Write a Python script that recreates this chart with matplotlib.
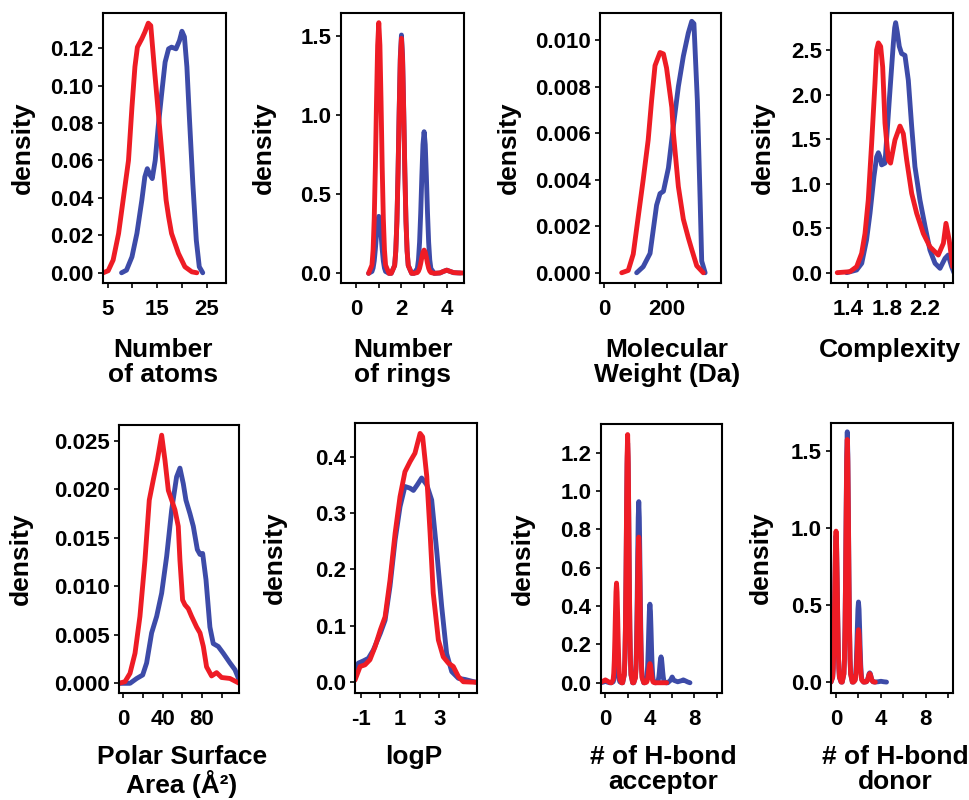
import matplotlib.pyplot as plt

# ==========================================================
# STYLE
# ==========================================================

plt.rcParams['font.family'] = ['Liberation Sans', 'DejaVu Sans']
plt.rcParams['font.weight'] = 'bold'

W, H = 970, 800
BLUE = '#3D4BA8'
RED = '#EE1C25'
LINE_W = 3.5
TICK_FS = 16
LABEL_FS = 19

# ==========================================================
# DATA  (density curves)
# ==========================================================

# sample offsets used around each integer peak of the discrete panels
PEAK_DX = [-0.45, -0.3, -0.25, -0.2, -0.15, -0.1, -0.05, 0.0, 0.05, 0.1, 0.15, 0.2, 0.25, 0.3, 0.45]

# --- Number of atoms ---
atoms_blue_x = [7.8, 8.8, 9.9, 10.9, 11.9, 12.5, 13.0, 13.6, 14.0, 14.6, 15.2, 15.9,
                16.6, 17.3, 17.9, 18.8, 19.5, 20.0, 20.5, 21.0, 21.5, 22.2, 22.9, 23.5, 24.2]
atoms_blue_y = [0.0, .0014, .0085, .021, .0388, .0512, .0556, .052, .0503, .060, .0779, .0956,
                .1125, .1196, .1205, .1196, .124, .129, .126, .110, .0832, .0476, .0174, .0032, 0.0]
atoms_red_x = [4.1, 5.1, 6.1, 7.2, 8.2, 9.2, 9.9, 10.5, 11.0, 11.9, 12.5, 13.2, 13.7,
               14.4, 15.6, 16.8, 17.3, 17.9, 19.3, 20.6, 22.0, 23.0]
atoms_red_y = [0.0, .0011, .0068, .021, .0405, .060, .0885, .110, .1205, .125, .1285, .1333, .132,
               .110, .0743, .0388, .030, .021, .0103, .0032, .0005, 0.0]

# --- Number of rings ---
rings_blue_x = [c + d for c in (1, 2, 3) for d in PEAK_DX] + [3.7, 3.85, 4.0, 4.15, 4.3, 4.6]
rings_blue_y = [0, .012, .034, .079, .154, .247, .328, .36, .328, .247, .154, .079, .034, .012, 0,
                0, .050, .142, .331, .643, 1.032, 1.370, 1.506, 1.370, 1.032, .643, .331, .142, .050, 0,
                0, .030, .084, .197, .382, .613, .814, .895, .814, .613, .382, .197, .084, .030, 0,
                .002, .012, .02, .012, .004, .002]
rings_red_x = [c + d for c in (1, 2, 3) for d in PEAK_DX] + [3.7, 3.85, 4.0, 4.15, 4.3, 4.5, 4.76]
rings_red_y = [0, .052, .149, .348, .676, 1.085, 1.441, 1.584, 1.441, 1.085, .676, .348, .149, .052, 0,
               0, .049, .140, .327, .634, 1.017, 1.351, 1.485, 1.351, 1.017, .634, .327, .140, .049, 0,
               0, .005, .014, .032, .063, .101, .134, .147, .134, .101, .063, .032, .014, .005, 0,
               .003, .012, .02, .012, .005, .003, .002]

# --- Molecular weight ---
mw_blue_x = [104, 125, 147, 168, 179, 190, 206, 222, 238, 254, 270, 281, 288, 299, 308, 313, 324]
mw_blue_y = [0.0, .00026, .00083, .0029, .0034, .0035, .0045, .0063, .0080, .0093, .0103,
             .0108, .0107, .0074, .0031, .0005, 0.0]
mw_red_x = [56, 77, 93, 109, 125, 141, 152, 163, 179, 190, 200, 217, 222, 238, 254, 270, 281, 297, 318]
mw_red_y = [0.0, .0001, .0008, .0024, .0040, .0057, .0074, .0089, .00946, .0094, .0088,
            .0071, .0060, .0037, .0023, .0015, .0010, .0003, 0.0]

# --- Complexity ---
cx_blue_x = [1.383, 1.487, 1.54, 1.59, 1.626, 1.667, 1.695, 1.713, 1.73, 1.747, 1.782, 1.827,
             1.869, 1.883, 1.893, 1.91, 1.931, 1.955, 1.99, 2.025, 2.06, 2.094, 2.146, 2.2,
             2.25, 2.303, 2.355, 2.407, 2.44, 2.476, 2.5]
cx_blue_y = [0.0, .03, .105, .367, .666, 1.078, 1.30, 1.347, 1.30, 1.21, 1.23, 1.94,
             2.575, 2.75, 2.807, 2.70, 2.54, 2.46, 2.44, 2.16, 1.64, 1.19, .816, .516,
             .254, .105, .049, .16, .198, .067, 0.0]
cx_red_x = [1.285, 1.417, 1.487, 1.539, 1.574, 1.608, 1.643, 1.678, 1.695, 1.713, 1.737, 1.758,
            1.782, 1.817, 1.84, 1.886, 1.938, 1.973, 2.008, 2.06, 2.112, 2.181, 2.25, 2.337,
            2.39, 2.417, 2.45, 2.487]
cx_red_y = [0.0, .011, .067, .217, .44, .816, 1.45, 2.13, 2.50, 2.58, 2.54, 2.31,
            1.68, 1.265, 1.23, 1.49, 1.646, 1.56, 1.265, .89, .666, .44, .29, .198,
            .33, .554, .37, .067]

# --- Polar surface area ---
psa_blue_x = [-4.4, 6.8, 13.6, 19.7, 23.7, 28.8, 33.9, 39.0, 44.1, 49.2, 54.2, 57.6, 61.0, 63.7,
              67.8, 71.2, 75.3, 78.0, 80.7, 84.1, 88.1, 91.5, 96.6, 101.7, 108.5, 113.6, 118.0]
psa_blue_y = [0.0, 0.0, .0005, .00086, .0021, .0052, .0069, .0093, .0131, .0179, .0213, .0222,
              .0206, .0189, .0175, .0162, .0138, .0133, .0134, .0107, .0058, .0041, .0038,
              .0031, .0021, .0014, .0003]
psa_red_x = [-4.4, 1.7, 6.8, 11.9, 16.9, 22.0, 26.4, 30.5, 34.6, 39.0, 42.4, 45.8, 49.2, 52.5,
             55.9, 57.6, 60.3, 62.7, 66.1, 69.5, 74.6, 78.0, 81.4, 84.7, 89.8, 94.9, 100.0,
             108.5, 118.0]
psa_red_y = [0.0, .00017, .00103, .0031, .0069, .0127, .0189, .021, .023, .0256, .023, .0199,
             .0189, .0179, .0162, .0127, .0086, .0081, .0077, .0069, .0058, .0052, .0038,
             .0017, .00076, .0011, .0006, .0005, 0.0]

# --- logP ---
logp_blue_x = [-1.29, -1.12, -0.86, -0.61, -0.36, 0.0, 0.24, 0.49, 0.75, 1.0, 1.25, 1.51, 1.68,
               1.88, 2.1, 2.36, 2.61, 2.86, 3.12, 3.37, 3.63, 3.97, 4.31, 4.64, 4.9]
logp_blue_y = [.010, .034, .038, .0425, .057, .087, .110, .170, .252, .311, .347, .344, .340,
               .350, .362, .350, .323, .235, .134, .051, .019, .007, .005, .002, 0.0]
logp_red_x = [-1.29, -1.03, -0.78, -0.53, -0.27, 0.0, 0.24, 0.49, 0.75, 1.0, 1.25, 1.51, 1.76,
              2.02, 2.15, 2.36, 2.53, 2.69, 2.95, 3.2, 3.46, 3.71, 3.97, 4.22, 4.9]
logp_red_y = [.004, .028, .031, .040, .063, .093, .116, .181, .264, .329, .373, .391, .406,
              .441, .435, .365, .264, .158, .075, .045, .034, .028, .010, .001, 0.0]

# --- H-bond acceptor ---
acc_blue_x = ([-0.4, -0.15, 0.0, 0.15, 0.4]
              + [c + d for c in (1, 2, 3, 4, 5) for d in PEAK_DX]
              + [5.6, 5.85, 6.0, 6.15, 6.5, 6.85, 7.0, 7.15, 7.4, 7.6])
acc_blue_y = [0, .004, .01, .004, 0,
              0, .005, .014, .033, .064, .103, .137, .15, .137, .103, .064, .033, .014, .005, 0,
              0, .041, .118, .275, .534, .856, 1.138, 1.25, 1.138, .856, .534, .275, .118, .041, 0,
              0, .031, .089, .208, .404, .647, .860, .945, .860, .647, .404, .208, .089, .031, 0,
              0, .014, .039, .090, .175, .281, .373, .41, .373, .281, .175, .090, .039, .014, 0,
              0, .004, .013, .030, .058, .092, .123, .135, .123, .092, .058, .030, .013, .004, 0,
              0, .013, .03, .013, .005, .011, .015, .011, .004, 0]
acc_red_x = ([-0.42, -0.15, 0.0, 0.15, 0.4]
             + [c + d for c in (1, 2, 3, 4) for d in PEAK_DX]
             + [5.5])
acc_red_y = [.003, .01, .015, .01, .001,
             0, .017, .049, .114, .222, .356, .473, .52, .473, .356, .222, .114, .049, .017, 0,
             0, .043, .122, .285, .553, .887, 1.178, 1.295, 1.178, .887, .553, .285, .122, .043, 0,
             0, .025, .071, .167, .325, .521, .692, .76, .692, .521, .325, .167, .071, .025, 0,
             0, .003, .009, .022, .043, .069, .091, .10, .091, .069, .043, .022, .009, .003, 0,
             0]

# --- H-bond donor ---
don_blue_x = [c + d for c in (0, 1, 2, 3) for d in PEAK_DX] + [3.75, 4.0, 4.25, 4.5]
don_blue_y = [0, .031, .089, .209, .406, .651, .865, .95, .865, .651, .406, .209, .089, .031, 0,
              0, .054, .153, .358, .694, 1.113, 1.479, 1.625, 1.479, 1.113, .694, .358, .153, .054, 0,
              0, .017, .049, .114, .222, .356, .473, .52, .473, .356, .222, .114, .049, .017, 0,
              0, .002, .006, .013, .026, .041, .055, .06, .055, .041, .026, .013, .006, .002, 0,
              .002, .005, .002, 0]
don_red_x = [c + d for c in (0, 1, 2, 3) for d in PEAK_DX] + [3.5]
don_red_y = [0, .032, .092, .216, .418, .671, .892, .98, .892, .671, .418, .216, .092, .032, 0,
             0, .052, .148, .347, .673, 1.079, 1.433, 1.575, 1.433, 1.079, .673, .347, .148, .052, 0,
             0, .011, .032, .075, .145, .233, .309, .34, .309, .233, .145, .075, .032, .011, 0,
             0, .002, .005, .012, .023, .038, .05, .055, .05, .038, .023, .012, .005, .002, 0,
             0]

# ==========================================================
# PANELS: curves, x ticks + labels, y ticks + labels, x axis title
# ==========================================================

panels = [
    (atoms_blue_x, atoms_blue_y, atoms_red_x, atoms_red_y,
     [5, 10, 15, 20, 25], ['5', '', '15', '', '25'],
     [0, .02, .04, .06, .08, .10, .12], ['0.00', '0.02', '0.04', '0.06', '0.08', '0.10', '0.12'],
     'Number\nof atoms'),
    (rings_blue_x, rings_blue_y, rings_red_x, rings_red_y,
     [0, 1, 2, 3, 4], ['0', '', '2', '', '4'],
     [0, 0.5, 1.0, 1.5], ['0.0', '0.5', '1.0', '1.5'],
     'Number\nof rings'),
    (mw_blue_x, mw_blue_y, mw_red_x, mw_red_y,
     [0, 100, 200, 300], ['0', '', '200', ''],
     [0, .002, .004, .006, .008, .010], ['0.000', '0.002', '0.004', '0.006', '0.008', '0.010'],
     'Molecular\nWeight (Da)'),
    (cx_blue_x, cx_blue_y, cx_red_x, cx_red_y,
     [1.4, 1.6, 1.8, 2.0, 2.2, 2.4], ['1.4', '', '1.8', '', '2.2', ''],
     [0, 0.5, 1.0, 1.5, 2.0, 2.5], ['0.0', '0.5', '1.0', '1.5', '2.0', '2.5'],
     'Complexity'),
    (psa_blue_x, psa_blue_y, psa_red_x, psa_red_y,
     [0, 20, 40, 60, 80, 100], ['0', '', '40', '', '80', ''],
     [0, .005, .010, .015, .020, .025], ['0.000', '0.005', '0.010', '0.015', '0.020', '0.025'],
     'Polar Surface\nArea (Å²)'),
    (logp_blue_x, logp_blue_y, logp_red_x, logp_red_y,
     [-1, 0, 1, 2, 3, 4], ['-1', '', '1', '', '3', ''],
     [0, 0.1, 0.2, 0.3, 0.4], ['0.0', '0.1', '0.2', '0.3', '0.4'],
     'logP'),
    (acc_blue_x, acc_blue_y, acc_red_x, acc_red_y,
     [0, 2, 4, 6, 8, 10], ['0', '', '4', '', '8', ''],
     [0, 0.2, 0.4, 0.6, 0.8, 1.0, 1.2], ['0.0', '0.2', '0.4', '0.6', '0.8', '1.0', '1.2'],
     '# of H-bond\nacceptor'),
    (don_blue_x, don_blue_y, don_red_x, don_red_y,
     [0, 2, 4, 6, 8, 10], ['0', '', '4', '', '8', ''],
     [0, 0.5, 1.0, 1.5], ['0.0', '0.5', '1.0', '1.5'],
     '# of H-bond\ndonor'),
]

# ==========================================================
# LAYOUT (pixels): left, right, top, bottom, xlim, ylim,
#                  y-title centre x, x-title centre x, x-title top
# ==========================================================

layout = [
    (102.7, 225.7, 12.7, 282.7, (3.99, 28.84), (-0.0053, 0.1389), 23, 163, 338),
    (340.7, 464.0, 12.7, 283.0, (-0.68, 4.76), (-0.061, 1.647), 264, 403, 338),
    (600.0, 721.0, 12.7, 283.0, (-13.8, 375), (-0.00044, 0.01117), 509, 667, 338),
    (831.0, 952.7, 12.7, 283.0, (1.22, 2.487), (-0.116, 2.919), 763, 890, 338),
    (119.0, 239.3, 425.0, 693.3, (-4.4, 118), (-0.00103, 0.02665), 21, 182, 745),
    (355.0, 476.7, 422.7, 692.7, (-1.29, 4.9), (-0.0184, 0.460), 275, 414, 745),
    (600.7, 721.7, 424.0, 693.3, (-0.42, 10.45), (-0.055, 1.35), 523, 663, 745),
    (831.0, 952.7, 422.7, 692.7, (-0.45, 10.4), (-0.069, 1.684), 761, 895, 745),
]

# ==========================================================
# DRAW
# ==========================================================

fig = plt.figure(figsize=(W / 100, H / 100), dpi=100)

for (bx, by, rx, ry, xt, xtl, yt, ytl, xtitle), (l, r, t, b, xlim, ylim, ylx, xlx, xly) in zip(panels, layout):
    w, h = r - l, b - t
    ax = fig.add_axes([l / W, 1 - b / H, w / W, h / H])

    ax.plot(bx, by, color=BLUE, lw=LINE_W, solid_joinstyle='round', solid_capstyle='round')
    ax.plot(rx, ry, color=RED, lw=LINE_W, solid_joinstyle='round', solid_capstyle='round')

    ax.set_xlim(xlim)
    ax.set_ylim(ylim)
    ax.set_xticks(xt)
    ax.set_xticklabels(xtl)
    ax.set_yticks(yt)
    ax.set_yticklabels(ytl)

    ax.tick_params(direction='out', length=3.6, width=1.2, labelsize=TICK_FS)
    ax.tick_params(axis='x', pad=8)
    ax.tick_params(axis='y', pad=3)
    for s in ax.spines.values():
        s.set_linewidth(1.5)

    ax.set_ylabel('density', fontsize=LABEL_FS, fontweight='bold')
    ax.yaxis.set_label_coords((ylx - l) / w, 0.5)
    ax.yaxis.label.set_va('center')

    ax.set_xlabel(xtitle, fontsize=LABEL_FS, fontweight='bold', linespacing=1.05)
    ax.xaxis.set_label_coords((xlx - l) / w, -(xly - b) / h)

fig.savefig('out.png', dpi=100)
